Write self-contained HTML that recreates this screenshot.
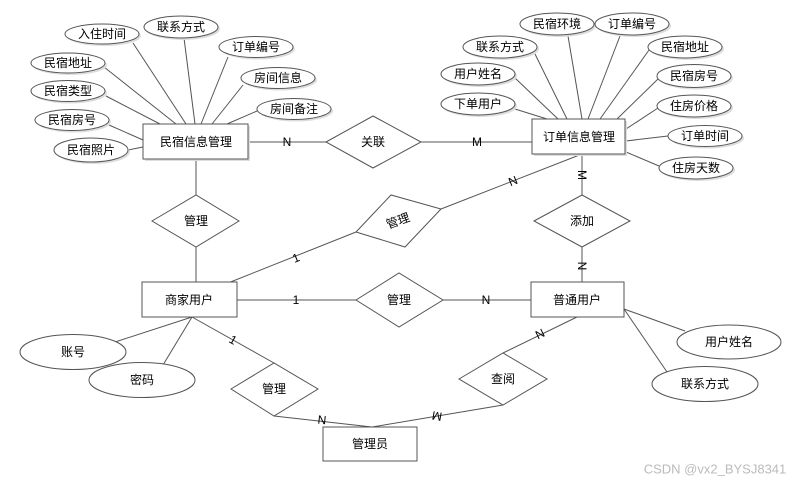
<!DOCTYPE html>
<html><head><meta charset="utf-8"><style>
html,body{margin:0;padding:0;background:#fff;}
svg{display:block;}
text{font-family:"Liberation Sans","Noto Sans CJK SC",sans-serif;font-size:12px;fill:#000;text-anchor:middle;dominant-baseline:central;}
.l{stroke:#555;stroke-width:1;fill:none;}
.e{fill:#fff;stroke:#555;stroke-width:1;}
.s{fill:#ddd;stroke:none;}
</style></head><body>
<svg width="811" height="485" viewBox="0 0 811 485" xmlns="http://www.w3.org/2000/svg">
<!-- left cluster lines -->
<g class="l">
<line x1="133" y1="43" x2="186" y2="124"/>
<line x1="184" y1="38" x2="195" y2="124"/>
<line x1="228" y1="57" x2="201" y2="124"/>
<line x1="104" y1="67" x2="176" y2="124"/>
<line x1="106" y1="96" x2="160" y2="124"/>
<line x1="243" y1="85" x2="212" y2="124"/>
<line x1="257" y1="111" x2="227" y2="124"/>
<line x1="109" y1="125" x2="143" y2="140"/>
<line x1="128" y1="150" x2="143" y2="147"/>
<!-- right cluster -->
<line x1="535" y1="54" x2="567" y2="119"/>
<line x1="568" y1="36" x2="582" y2="119"/>
<line x1="620" y1="36" x2="588" y2="119"/>
<line x1="649" y1="50" x2="600" y2="119"/>
<line x1="515" y1="78" x2="558" y2="119"/>
<line x1="515" y1="109" x2="547" y2="119"/>
<line x1="658" y1="79" x2="617" y2="119"/>
<line x1="658" y1="108" x2="626" y2="129"/>
<line x1="668" y1="136" x2="626" y2="141"/>
<line x1="659" y1="166" x2="626" y2="152"/>
<!-- relations -->
<line x1="248" y1="142" x2="326" y2="142"/>
<line x1="421" y1="142" x2="532" y2="142"/>
<line x1="196" y1="159" x2="196" y2="195"/>
<line x1="196" y1="247" x2="196" y2="283"/>
<line x1="582" y1="154" x2="441" y2="209"/>
<line x1="228" y1="283" x2="356" y2="232"/>
<line x1="582" y1="154" x2="582" y2="195"/>
<line x1="582" y1="247" x2="582" y2="282"/>
<line x1="237" y1="300" x2="356" y2="300"/>
<line x1="443" y1="300" x2="531" y2="300"/>
<line x1="192" y1="317" x2="115" y2="342"/>
<line x1="192" y1="317" x2="163" y2="365"/>
<line x1="192" y1="317" x2="274" y2="363"/>
<line x1="274" y1="416" x2="372" y2="427"/>
<line x1="577" y1="317" x2="503" y2="353"/>
<line x1="503" y1="405" x2="372" y2="427"/>
<line x1="624" y1="309" x2="685" y2="331"/>
<line x1="624" y1="309" x2="667" y2="372"/>
</g>
<!-- ellipses -->
<g>
<ellipse class="s" cx="104" cy="36" rx="37" ry="10"/><ellipse class="e" cx="102" cy="34" rx="37" ry="10"/>
<ellipse class="s" cx="183" cy="29" rx="37" ry="11"/><ellipse class="e" cx="181" cy="27" rx="37" ry="11"/>
<ellipse class="s" cx="258" cy="49" rx="37" ry="10.5"/><ellipse class="e" cx="256" cy="47" rx="37" ry="10.5"/>
<ellipse class="s" cx="70" cy="65" rx="37" ry="10"/><ellipse class="e" cx="68" cy="63" rx="37" ry="10"/>
<ellipse class="s" cx="70" cy="93" rx="37" ry="10.5"/><ellipse class="e" cx="68" cy="91" rx="37" ry="10.5"/>
<ellipse class="s" cx="280" cy="80" rx="37" ry="10.5"/><ellipse class="e" cx="278" cy="78" rx="37" ry="10.5"/>
<ellipse class="s" cx="296" cy="111" rx="37" ry="10.5"/><ellipse class="e" cx="294" cy="109" rx="37" ry="10.5"/>
<ellipse class="s" cx="74" cy="122" rx="37" ry="10.5"/><ellipse class="e" cx="72" cy="120" rx="37" ry="10.5"/>
<ellipse class="s" cx="93" cy="152" rx="37" ry="12"/><ellipse class="e" cx="91" cy="150" rx="37" ry="12"/>

<ellipse class="s" cx="559" cy="26" rx="37" ry="11"/><ellipse class="e" cx="557" cy="24" rx="37" ry="11"/>
<ellipse class="s" cx="634" cy="26" rx="37" ry="11"/><ellipse class="e" cx="632" cy="24" rx="37" ry="11"/>
<ellipse class="s" cx="502" cy="49" rx="37" ry="11"/><ellipse class="e" cx="500" cy="47" rx="37" ry="11"/>
<ellipse class="s" cx="687" cy="49" rx="37" ry="11"/><ellipse class="e" cx="685" cy="47" rx="37" ry="11"/>
<ellipse class="s" cx="480" cy="76" rx="37" ry="11"/><ellipse class="e" cx="478" cy="74" rx="37" ry="11"/>
<ellipse class="s" cx="696" cy="78" rx="37" ry="11.5"/><ellipse class="e" cx="694" cy="76" rx="37" ry="11.5"/>
<ellipse class="s" cx="480" cy="106" rx="37" ry="11"/><ellipse class="e" cx="478" cy="104" rx="37" ry="11"/>
<ellipse class="s" cx="696" cy="108" rx="37" ry="11"/><ellipse class="e" cx="694" cy="106" rx="37" ry="11"/>
<ellipse class="s" cx="707" cy="138" rx="37" ry="10.5"/><ellipse class="e" cx="705" cy="136" rx="37" ry="10.5"/>
<ellipse class="s" cx="698" cy="170" rx="37" ry="11"/><ellipse class="e" cx="696" cy="168" rx="37" ry="11"/>

<ellipse class="e" cx="73" cy="352" rx="53" ry="17.5"/>
<ellipse class="e" cx="142" cy="380" rx="53" ry="17.5"/>
<ellipse class="e" cx="729" cy="342" rx="52" ry="17"/>
<ellipse class="e" cx="705" cy="384" rx="53" ry="17.5"/>
</g>
<!-- boxes -->
<rect class="s" x="145" y="126" width="105" height="35"/>
<rect class="e" x="143" y="124" width="105" height="35"/>
<rect class="s" x="534" y="121" width="93" height="35"/>
<rect class="e" x="532" y="119" width="93" height="35"/>
<rect class="e" x="142" y="282" width="95" height="35"/>
<rect class="e" x="531" y="282" width="93" height="35"/>
<rect class="e" x="323" y="427" width="94" height="34"/>
<!-- diamonds -->
<polygon class="e" points="326,142 373,116 421,142 373,168"/>
<polygon class="e" points="152,221 196,195 239,221 196,247"/>
<polygon class="e" points="356,232 391,195 441,209 405,247"/>
<polygon class="e" points="534,221 582,195 630,221 582,247"/>
<polygon class="e" points="356,300 399,273 443,300 399,327"/>
<polygon class="e" points="231,389 274,363 318,389 274,416"/>
<polygon class="e" points="459,379 503,353 547,379 503,405"/>
<!-- texts -->
<text x="102" y="34">入住时间</text>
<text x="181" y="27">联系方式</text>
<text x="256" y="47">订单编号</text>
<text x="68" y="63">民宿地址</text>
<text x="68" y="91">民宿类型</text>
<text x="278" y="78">房间信息</text>
<text x="294" y="109">房间备注</text>
<text x="72" y="120">民宿房号</text>
<text x="91" y="150">民宿照片</text>
<text x="557" y="24">民宿环境</text>
<text x="632" y="24">订单编号</text>
<text x="500" y="47">联系方式</text>
<text x="685" y="47">民宿地址</text>
<text x="478" y="74">用户姓名</text>
<text x="694" y="76">民宿房号</text>
<text x="478" y="104">下单用户</text>
<text x="694" y="106">住房价格</text>
<text x="705" y="136">订单时间</text>
<text x="696" y="168">住房天数</text>
<text x="73" y="352">账号</text>
<text x="142" y="380">密码</text>
<text x="729" y="342">用户姓名</text>
<text x="705" y="384">联系方式</text>
<text x="196" y="142">民宿信息管理</text>
<text x="579" y="137">订单信息管理</text>
<text x="189" y="300">商家用户</text>
<text x="577" y="300">普通用户</text>
<text x="370" y="444">管理员</text>
<text x="373" y="142">关联</text>
<text x="196" y="221">管理</text>
<text x="398" y="221" transform="rotate(-20 398 221)">管理</text>
<text x="582" y="221">添加</text>
<text x="399" y="300">管理</text>
<text x="274" y="389">管理</text>
<text x="503" y="379">查阅</text>
<!-- cardinalities -->
<text x="287" y="142">N</text>
<text x="477" y="142">M</text>
<text x="513" y="181" transform="rotate(-22 513 181)">N</text>
<text x="296" y="258" transform="rotate(-22 296 258)">1</text>
<text x="582" y="175" transform="rotate(90 582 175)">M</text>
<text x="582" y="266" transform="rotate(90 582 266)">N</text>
<text x="296" y="300">1</text>
<text x="486" y="300">N</text>
<text x="233" y="340" transform="rotate(30 233 340)">1</text>
<text x="322" y="420" transform="rotate(6 322 420)">N</text>
<text x="540" y="334" transform="rotate(-26 540 334)">N</text>
<text x="437" y="416" transform="rotate(190 437 416)">M</text>
<text x="715" y="469" style="fill:#bbb;font-size:13px">CSDN @vx2_BYSJ8341</text>
</svg>
</body></html>
